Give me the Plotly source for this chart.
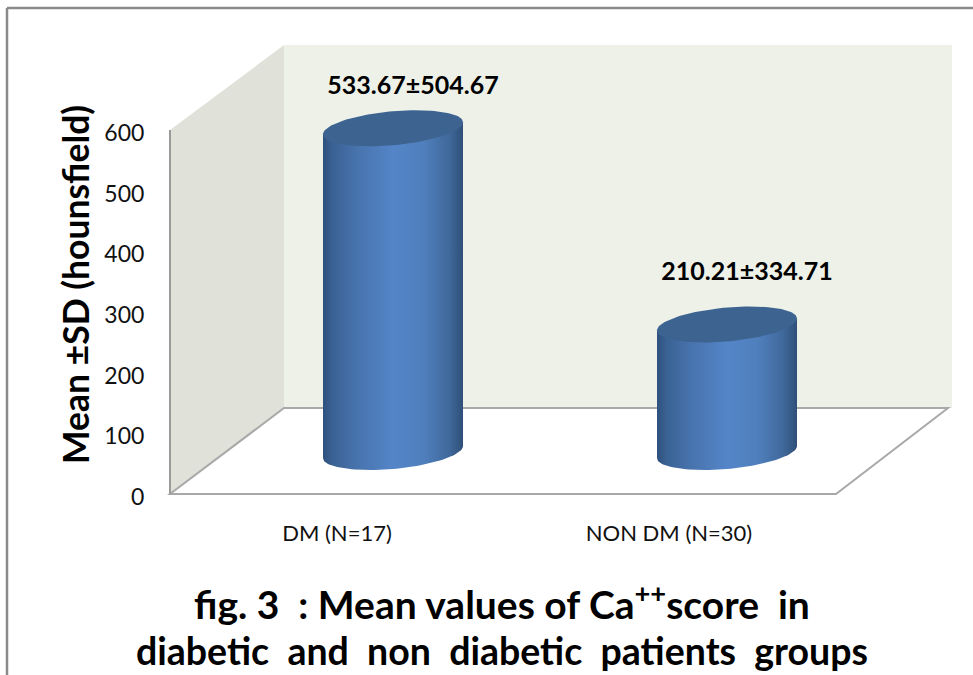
import numpy as np
import plotly.graph_objects as go

# Chart data
categories = ["DM (N=17)", "NON DM (N=30)"]
means = [533.67, 210.21]
std_devs = [504.67, 334.71]
y_ticks = [0, 100, 200, 300, 400, 500, 600]

W, H = 973, 675
FONT = "Lato, 'Open Sans', sans-serif"

# The x axis runs in screen-like units; the y axis keeps its real scale.
X0, X1 = 170, 836          # front edge of the floor
DX, DY_PX = 114, 86        # depth offset of the back wall
Y0_PX, Y600_PX = 494, 130  # where 0 and 600 sit on the front edge
UNITS_PER_PX = 600 / (Y0_PX - Y600_PX)


def px_up(p):
    """Convert a vertical distance in pixels to value units."""
    return p * UNITS_PER_PX


y_lo = -(H - Y0_PX) * UNITS_PER_PX
y_hi = Y0_PX * UNITS_PER_PX

BASE = px_up(42)           # cylinders stand back from the front edge
CENTERS = [393, 727]       # cylinder centres
TICK_X = [337, 669]        # category label centres
LABEL_LIFT = [40, 51]      # gap between cylinder top and its label, in pixels
RX, RY, TILT = 70, 17, 6   # end-ellipse shape, in pixels
GRADIENT = [
    [0.0, "#2E517D"],
    [0.07, "#3A6294"],
    [0.25, "#4874AE"],
    [0.5, "#5485C8"],
    [0.72, "#4F7FBC"],
    [0.9, "#40699C"],
    [1.0, "#2F4F78"],
]


def ring(cx, level, t):
    x = cx + RX * np.cos(t)
    y = level + px_up(TILT * np.cos(t) + RY * np.sin(t))
    return x, y


fig = go.Figure()

# Walls, floor and outline of the 3D box
back_top = 600 + px_up(DY_PX - 1)
back_bot = px_up(DY_PX)
shapes = [
    dict(type="path", layer="below", line_width=0, fillcolor="#E0E2DA",
         path=f"M {X0} 0 L {X0} 600 L {X0 + DX} {back_top} L {X0 + DX} {back_bot} Z"),
    dict(type="rect", layer="below", line_width=0, fillcolor="#EEF1E8",
         x0=X0 + DX, x1=X1 + DX + 2, y0=back_bot, y1=back_top),
    dict(type="path", layer="below", fillcolor="#FFFFFF",
         line=dict(color="#A9A9A9", width=2),
         path=f"M {X0} 0 L {X1} 0 L {X1 + DX - 2} {back_bot} L {X0 + DX} {back_bot} Z"),
    dict(type="line", layer="below", line=dict(color="#9A9A9A", width=2),
         x0=X0, x1=X0, y0=0, y1=600),
    # Frame around the figure
    dict(type="line", xref="paper", yref="paper", line=dict(color="#8A8A8A", width=2.5),
         x0=7 / W, x1=7 / W, y0=0, y1=1 - 8 / H),
    dict(type="line", xref="paper", yref="paper", line=dict(color="#8A8A8A", width=2.5),
         x0=7 / W, x1=1, y0=1 - 8 / H, y1=1 - 8 / H),
]

# Cylinders: shaded body plus a darker top cap, heights taken from the means
top_half = np.linspace(0, 2 * np.pi, 121)
lower = np.linspace(np.pi, 2 * np.pi, 61)
for cx, m in zip(CENTERS, means):
    level = BASE + m
    bx, by = ring(cx, BASE, lower)
    rx_top, ry_top = ring(cx, level, np.array([0.0]))
    lx_top, ly_top = ring(cx, level, np.array([np.pi]))
    fig.add_trace(go.Scatter(
        x=np.concatenate([bx, rx_top, lx_top, bx[:1]]),
        y=np.concatenate([by, ry_top, ly_top, by[:1]]),
        mode="lines", line=dict(width=0), fill="toself",
        fillgradient=dict(type="horizontal", colorscale=GRADIENT,
                          start=cx - RX, stop=cx + RX),
        hoverinfo="skip", showlegend=False,
    ))
    tx, ty = ring(cx, level, top_half)
    fig.add_trace(go.Scatter(
        x=tx, y=ty, mode="lines", line=dict(width=0), fill="toself",
        fillcolor="#3D6391", hoverinfo="skip", showlegend=False,
    ))

# Value labels above each cylinder
fig.add_trace(go.Scatter(
    x=[cx + 20 for cx in CENTERS],
    y=[BASE + m + px_up(lift) for m, lift in zip(means, LABEL_LIFT)],
    mode="text",
    text=[f"<b>{m:.2f}±{s:.2f}</b>" for m, s in zip(means, std_devs)],
    textposition="middle center",
    textfont=dict(family=FONT, size=25, color="#000000"),
    cliponaxis=False, hoverinfo="skip", showlegend=False,
))

annotations = [
    dict(text="<b>Mean ±SD (hounsfield)</b>", x=75 / W, y=1 - 285 / H,
         xref="paper", yref="paper", showarrow=False, textangle=-90,
         xanchor="center", yanchor="middle",
         font=dict(family=FONT, size=35.5, color="#000000")),
    dict(text="<b>fig. 3  : Mean values of Ca<sup>++</sup>score  in</b>", x=502 / W, y=1 - 601 / H,
         xref="paper", yref="paper", showarrow=False,
         xanchor="center", yanchor="middle",
         font=dict(family=FONT, size=39, color="#000000")),
    dict(text="<b>diabetic  and  non  diabetic  patients  groups</b>", x=502 / W, y=1 - 650.5 / H,
         xref="paper", yref="paper", showarrow=False,
         xanchor="center", yanchor="middle",
         font=dict(family=FONT, size=37.5, color="#000000")),
]

fig.update_layout(
    width=W, height=H,
    margin=dict(l=0, r=0, t=0, b=0),
    paper_bgcolor="#FFFFFF", plot_bgcolor="rgba(0,0,0,0)",
    shapes=shapes, annotations=annotations, showlegend=False,
    xaxis=dict(
        range=[0, W], domain=[0, 1], anchor="free", position=1 - Y0_PX / H,
        tickmode="array", tickvals=TICK_X, ticktext=categories,
        ticks="outside", ticklen=20, tickcolor="rgba(0,0,0,0)",
        tickfont=dict(family=FONT, size=22, color="#111111"),
        showgrid=False, zeroline=False, showline=False,
    ),
    yaxis=dict(
        range=[y_lo, y_hi], domain=[0, 1], anchor="free", position=X0 / W,
        tickmode="array", tickvals=y_ticks,
        ticks="outside", ticklen=21, tickcolor="rgba(0,0,0,0)",
        ticklabelshift=3,
        tickfont=dict(family=FONT, size=23, color="#111111"),
        showgrid=False, zeroline=False, showline=False,
    ),
)

fig.write_html("out.html", config={"displayModeBar": False})
